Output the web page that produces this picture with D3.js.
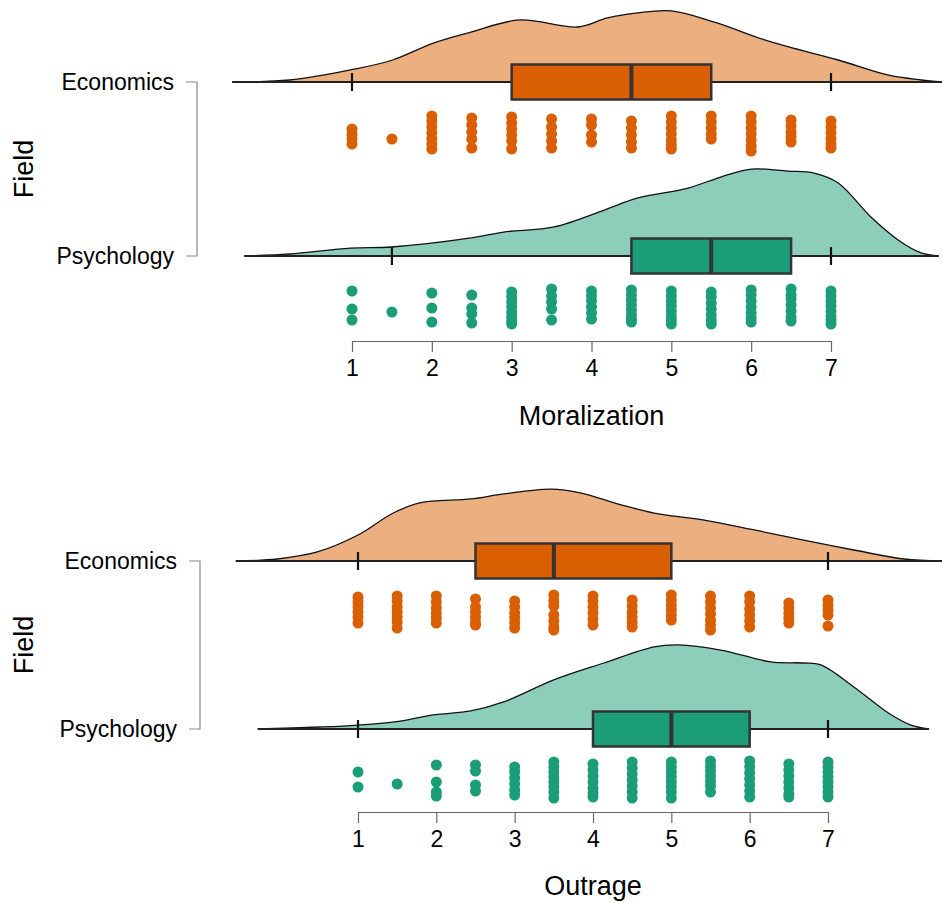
<!DOCTYPE html>
<html>
<head>
<meta charset="utf-8">
<script src="https://cdn.jsdelivr.net/npm/d3@7"></script>
<style>
  body { margin: 0; background: #fff; }
  svg { display: block; font-family: "Liberation Sans", Arial, sans-serif; }
</style>
</head>
<body>
<svg id="chart" width="942" height="903"></svg>
<script>
// categories + ticks
const fields = ["Economics", "Psychology"];
const xTicks = [1, 2, 3, 4, 5, 6, 7];

// box stats: [whisker low, Q1, median, Q3, whisker high]
const moralEconBox = [1, 3, 4.5, 5.5, 7];
const moralPsychBox = [1.5, 4.5, 5.5, 6.5, 7];
const outrageEconBox = [1, 2.5, 3.5, 5, 7];
const outragePsychBox = [1, 4, 5, 6, 7];

// density curves: [score, density]
const moralEconDensity = [[-0.5,0],[0.22,0.009],[0.98,0.055],[1.51,0.1],[2.02,0.177],[2.49,0.227],[3.1,0.282],[3.83,0.25],[4.2,0.291],[4.58,0.314],[5.0,0.323],[5.53,0.273],[6.25,0.182],[7.09,0.1],[7.71,0.032],[8.13,0.009],[8.39,0]];
const moralPsychDensity = [[-0.35,0],[0.22,0.009],[0.98,0.036],[1.5,0.041],[2.49,0.082],[2.9,0.109],[3.53,0.132],[4.16,0.209],[4.58,0.264],[5.21,0.309],[5.62,0.359],[6.0,0.395],[6.46,0.386],[6.79,0.377],[7.09,0.332],[7.5,0.177],[7.84,0.073],[8.13,0.014],[8.35,0]];
const outrageEconDensity = [[-0.56,0],[-0.03,0.009],[0.48,0.041],[1.0,0.118],[1.45,0.218],[1.79,0.264],[2.44,0.282],[2.86,0.305],[3.46,0.327],[3.85,0.309],[4.36,0.255],[4.78,0.218],[5.42,0.186],[6.06,0.141],[6.69,0.095],[7.33,0.05],[7.97,0.009],[8.46,0]];
const outragePsychDensity = [[-0.28,0],[0.51,0.009],[1.0,0.018],[1.54,0.036],[1.96,0.064],[2.44,0.082],[2.86,0.123],[3.5,0.223],[4.14,0.3],[4.78,0.373],[5.09,0.382],[5.63,0.359],[6.27,0.305],[6.69,0.3],[6.91,0.291],[7.33,0.191],[7.77,0.073],[8.06,0.018],[8.29,0]];

// raw responses: [score, jitter offsets of each point]
const moralEconDots = [
  [1, [-0.2, 0.05, 0.3, 0.55]],
  [1.5, [0.3]],
  [2, [-0.85, -0.6, -0.3, 0, 0.3, 0.55, 0.8]],
  [2.5, [-0.75, -0.4, -0.05, 0.3, 0.75]],
  [3, [-0.8, -0.5, -0.2, 0.1, 0.4, 0.8]],
  [3.5, [-0.7, -0.3, 0.05, 0.4, 0.75]],
  [4, [-0.7, -0.4, 0.1, 0.45]],
  [4.5, [-0.6, -0.25, 0.1, 0.45, 0.75]],
  [5, [-0.85, -0.55, -0.25, 0.05, 0.35, 0.6, 0.8]],
  [5.5, [-0.85, -0.55, -0.25, 0.05, 0.3]],
  [6, [-0.85, -0.55, -0.25, 0.05, 0.35, 0.65, 0.9]],
  [6.5, [-0.65, -0.35, -0.05, 0.2, 0.45]],
  [7, [-0.6, -0.3, 0, 0.3, 0.55, 0.75]]
];
const moralPsychDots = [
  [1, [-0.8, 0.1, 0.65]],
  [1.5, [0.25]],
  [2, [-0.7, 0.05, 0.75]],
  [2.5, [-0.6, 0.05, 0.35, 0.8]],
  [3, [-0.75, -0.5, -0.25, 0, 0.25, 0.5, 0.7, 0.85]],
  [3.5, [-0.9, -0.55, -0.25, 0.1, 0.65]],
  [4, [-0.8, -0.55, -0.3, 0, 0.3, 0.6]],
  [4.5, [-0.85, -0.6, -0.35, -0.1, 0.15, 0.4, 0.6, 0.75]],
  [5, [-0.8, -0.55, -0.3, -0.05, 0.2, 0.45, 0.65, 0.85]],
  [5.5, [-0.75, -0.5, -0.2, 0.1, 0.4, 0.65, 0.85]],
  [6, [-0.85, -0.6, -0.3, 0, 0.3, 0.55, 0.75]],
  [6.5, [-0.9, -0.6, -0.4, -0.1, 0.2, 0.5, 0.7]],
  [7, [-0.8, -0.55, -0.3, -0.05, 0.2, 0.45, 0.65, 0.85]]
];
const outrageEconDots = [
  [1, [-0.75, -0.5, -0.25, 0, 0.25, 0.55]],
  [1.5, [-0.8, -0.55, -0.25, 0, 0.25, 0.5, 0.8]],
  [2, [-0.8, -0.5, -0.2, 0.05, 0.3, 0.55]],
  [2.5, [-0.65, -0.25, 0, 0.25, 0.5, 0.65]],
  [3, [-0.55, -0.25, 0.05, 0.3, 0.55, 0.8]],
  [3.5, [-0.85, -0.55, -0.3, 0.15, 0.45, 0.75, 0.9]],
  [4, [-0.8, -0.55, -0.25, 0.05, 0.35, 0.65]],
  [4.5, [-0.6, -0.3, 0, 0.25, 0.5, 0.75]],
  [5, [-0.85, -0.6, -0.35, -0.1, 0.15, 0.4]],
  [5.5, [-0.8, -0.5, -0.2, 0.1, 0.4, 0.65, 0.9]],
  [6, [-0.8, -0.5, -0.15, 0.15, 0.45, 0.75]],
  [6.5, [-0.45, -0.2, 0.05, 0.3, 0.55]],
  [7, [-0.6, -0.35, -0.1, 0.15, 0.7]]
];
const outragePsychDots = [
  [1, [-0.4, 0.35]],
  [1.5, [0.2]],
  [2, [-0.75, 0.1, 0.6, 0.8]],
  [2.5, [-0.75, -0.45, 0.25, 0.55]],
  [3, [-0.65, -0.4, -0.1, 0.2, 0.5, 0.75]],
  [3.5, [-0.9, -0.65, -0.4, -0.15, 0.1, 0.35, 0.6, 0.9]],
  [4, [-0.8, -0.5, -0.2, 0.1, 0.4, 0.65, 0.85]],
  [4.5, [-0.9, -0.6, -0.3, 0, 0.3, 0.6, 0.9]],
  [5, [-0.9, -0.65, -0.4, -0.15, 0.1, 0.35, 0.6, 0.9]],
  [5.5, [-0.95, -0.7, -0.45, -0.2, 0.05, 0.3, 0.6]],
  [6, [-0.95, -0.65, -0.35, -0.05, 0.25, 0.55, 0.85]],
  [6.5, [-0.8, -0.5, -0.2, 0.1, 0.4, 0.7, 0.85]],
  [7, [-0.9, -0.65, -0.4, -0.15, 0.1, 0.35, 0.6, 0.85]]
];

const colors = { Economics: "#D95F02", Psychology: "#1B9E77" };

const svg = d3.select("#chart");

// one raincloud panel
function drawPanel(cfg) {
  const x = d3.scaleLinear().domain([1, 7]).range(cfg.xRange);
  const y = d3.scalePoint().domain(fields).range(cfg.yRows);
  const dens = d3.scaleLinear().domain([0, 1]).range([0, 220]);
  const smooth = d3.curveCatmullRom.alpha(0.5);
  const g = svg.append("g");

  fields.forEach((f, i) => {
    const base = y(f);
    const curve = cfg.density[i];
    const box = cfg.box[i];

    // cloud
    g.append("path")
      .datum(curve)
      .attr("d", d3.area().curve(smooth)
        .x(d => x(d[0])).y0(base).y1(d => Math.min(base, base - dens(d[1]))))
      .attr("fill", colors[f]).attr("fill-opacity", 0.5);
    g.append("path")
      .datum(curve)
      .attr("d", d3.line().curve(smooth)
        .x(d => x(d[0])).y(d => base - dens(d[1])))
      .attr("fill", "none").attr("stroke", "#111").attr("stroke-width", 1.3);
    g.append("line")
      .attr("x1", x(curve[0][0])).attr("x2", x(curve[curve.length - 1][0]))
      .attr("y1", base).attr("y2", base)
      .attr("stroke", "#222").attr("stroke-width", 2);

    // whisker end ticks
    [box[0], box[4]].forEach(v => {
      g.append("line")
        .attr("x1", x(v)).attr("x2", x(v))
        .attr("y1", base - 9).attr("y2", base + 9)
        .attr("stroke", "#111").attr("stroke-width", 2.2);
    });

    // box
    g.append("rect")
      .attr("x", x(box[1])).attr("y", base - 17.5)
      .attr("width", x(box[3]) - x(box[1])).attr("height", 35)
      .attr("fill", colors[f]).attr("stroke", "#333").attr("stroke-width", 2.5);
    g.append("line")
      .attr("x1", x(box[2])).attr("x2", x(box[2]))
      .attr("y1", base - 17.5).attr("y2", base + 17.5)
      .attr("stroke", "#333").attr("stroke-width", 4);

    // rain
    const pts = [];
    cfg.dots[i].forEach(([v, js]) => js.forEach(j => pts.push([v, j])));
    g.selectAll(null)
      .data(pts)
      .enter()
      .append("circle")
      .attr("cx", d => x(d[0]))
      .attr("cy", d => base + 51 + d[1] * 20)
      .attr("r", 5.5)
      .attr("fill", colors[f]);

    // category label
    g.append("text")
      .attr("x", cfg.bracketX - 23).attr("y", base)
      .attr("text-anchor", "end").attr("dominant-baseline", "central")
      .attr("font-size", 23).attr("fill", "#000")
      .text(f);
  });

  // field bracket
  const [y0, y1] = cfg.yRows;
  g.append("path")
    .attr("d", `M${cfg.bracketX - 11},${y0}H${cfg.bracketX}V${y1}H${cfg.bracketX - 11}`)
    .attr("fill", "none").attr("stroke", "#888").attr("stroke-width", 1.2);
  g.append("text")
    .attr("transform", `translate(24,${(y0 + y1) / 2}) rotate(-90)`)
    .attr("text-anchor", "middle").attr("dominant-baseline", "central")
    .attr("font-size", 27).text("Field");

  // x axis
  const ax = g.append("g")
    .attr("transform", `translate(0,${cfg.axisY})`)
    .call(d3.axisBottom(x).tickValues(xTicks).tickFormat(d3.format("d"))
      .tickSize(11).tickSizeOuter(0).tickPadding(8));
  ax.select(".domain").attr("stroke", "#666").attr("stroke-width", 1.2);
  ax.selectAll(".tick line").attr("stroke", "#666").attr("stroke-width", 1.2);
  ax.selectAll(".tick text").attr("font-size", 23).attr("fill", "#000")
    .attr("font-family", "Liberation Sans, Arial, sans-serif");

  g.append("text")
    .attr("x", (cfg.xRange[0] + cfg.xRange[1]) / 2).attr("y", cfg.titleY)
    .attr("text-anchor", "middle").attr("dominant-baseline", "central")
    .attr("font-size", 27).text(cfg.title);
}

drawPanel({
  title: "Moralization",
  xRange: [352, 831], yRows: [82, 256], axisY: 341, titleY: 416, bracketX: 197,
  box: [moralEconBox, moralPsychBox],
  density: [moralEconDensity, moralPsychDensity],
  dots: [moralEconDots, moralPsychDots]
});

drawPanel({
  title: "Outrage",
  xRange: [358, 828], yRows: [561, 729], axisY: 812, titleY: 886, bracketX: 200,
  box: [outrageEconBox, outragePsychBox],
  density: [outrageEconDensity, outragePsychDensity],
  dots: [outrageEconDots, outragePsychDots]
});
</script>
</body>
</html>
